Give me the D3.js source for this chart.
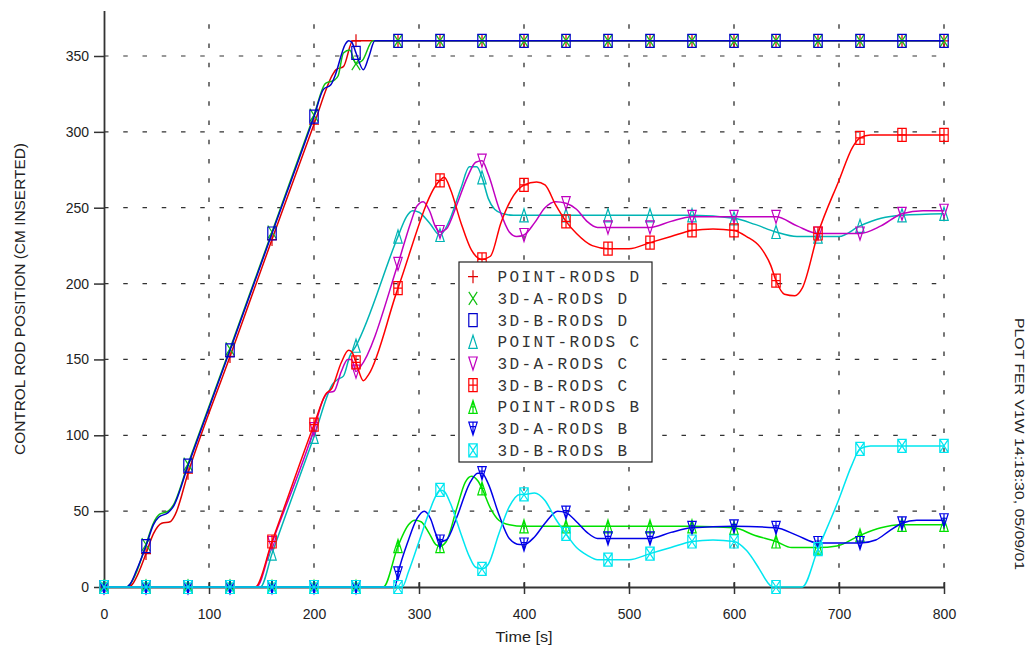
<!DOCTYPE html>
<html><head><meta charset="utf-8">
<script src="https://cdn.jsdelivr.net/npm/d3@7"></script>
<style>body{margin:0;background:#fff;} svg{display:block;background:#fff}</style>
</head><body>
<svg id="chart" width="1034" height="649"></svg>
<script>
// ---------------- data ----------------
const xTicks = [0, 100, 200, 300, 400, 500, 600, 700, 800];
const yTicks = [0, 50, 100, 150, 200, 250, 300, 350];
const xTitle = "Time [s]";
const yTitle = "CONTROL ROD POSITION (CM INSERTED)";
const sideNote = "PLOT FER V1W 14:18:30, 05/09/01";
const seriesNames = ["POINT-RODS D","3D-A-RODS D","3D-B-RODS D","POINT-RODS C","3D-A-RODS C","3D-B-RODS C","POINT-RODS B","3D-A-RODS B","3D-B-RODS B"];

const pointRodsD = [[0,0],[22,0],[26,1],[32,8],[40,22],[47,35],[55,42],[63,43],[68,48],[80,75],[120,152],[160,229],[200,305],[218,338],[221,341],[228,343],[237,360],[240,360],[280,360],[320,360],[360,360],[400,360],[440,360],[480,360],[520,360],[560,360],[600,360],[640,360],[680,360],[720,360],[760,360],[800,360]];
const aRodsD = [[0,0],[21,0],[25,2],[31,10],[40,28],[47,42],[53,48],[61,50],[66,54],[80,81],[120,157],[160,234],[200,311],[211,332],[219,334],[223,337],[228,352],[234,354],[240,345],[246,347],[256,360],[280,360],[320,360],[360,360],[400,360],[440,360],[480,360],[520,360],[560,360],[600,360],[640,360],[680,360],[720,360],[760,360],[800,360]];
const bRodsD = [[0,0],[21,0],[25,2],[31,11],[40,27],[47,41],[52,46],[61,49],[66,53],[80,80],[120,156],[160,233],[200,310],[209,328],[216,331],[220,337],[230,358],[233,360],[236,359],[240,352],[247,341],[252,349],[258,360],[280,360],[320,360],[360,360],[400,360],[440,360],[480,360],[520,360],[560,360],[600,360],[640,360],[680,360],[720,360],[760,360],[800,360]];

const pointRodsC = [[0,0],[40,0],[80,0],[120,0],[149,0],[160,22],[200,99],[218,134],[223,137],[228,139],[234,152],[240,159],[280,231],[288,244],[294,248],[300,247],[310,240],[320,232],[328,240],[340,263],[348,277],[355,277],[360,270],[366,256],[372,249],[380,246],[390,245],[400,245],[440,245],[480,245],[520,245],[560,245],[600,243],[620,239],[640,234],[660,231],[680,231],[700,231],[720,238],[740,243],[760,245],[800,246]];
const aRodsC = [[0,0],[40,0],[80,0],[120,0],[145,0],[160,29],[200,104],[209,124],[213,128],[219,129],[226,142],[232,150],[236,150],[240,142],[244,145],[280,213],[292,240],[298,251],[304,254],[310,248],[316,237],[320,234],[326,236],[336,252],[346,270],[354,280],[360,281],[366,272],[376,250],[386,234],[393,231],[400,232],[410,240],[420,250],[430,254],[440,253],[450,249],[460,241],[470,237],[480,237],[520,237],[540,241],[560,244],[600,244],[640,244],[660,238],[680,233],[700,233],[720,233],[740,238],[760,246],[780,248],[800,248]];
const bRodsC = [[0,0],[40,0],[80,0],[120,0],[144,0],[160,30],[200,107],[211,127],[217,131],[226,148],[233,156],[236,155],[240,148],[247,136],[252,140],[280,197],[320,268],[324,270],[330,262],[340,240],[350,222],[360,216],[368,218],[378,240],[390,258],[400,265],[412,267],[420,265],[430,252],[440,241],[450,233],[465,225],[480,223],[500,223],[520,227],[540,231],[560,235],[580,236],[600,235],[612,231],[625,224],[635,212],[640,202],[648,193],[658,192],[665,197],[680,233],[700,268],[713,290],[720,296],[730,298],[760,298],[800,298]];

const pointRodsB = [[0,0],[40,0],[80,0],[120,0],[160,0],[200,0],[240,0],[266,0],[280,27],[290,41],[296,44],[302,43],[310,35],[316,28],[320,27],[326,30],[336,52],[344,69],[350,73],[356,70],[360,65],[368,52],[376,44],[386,41],[400,40],[440,40],[480,40],[520,40],[560,40],[600,39],[620,34],[640,30],[655,26],[680,26],[698,27],[720,34],[740,39],[758,41],[760,41],[800,41]];
const aRodsB = [[0,0],[40,0],[80,0],[120,0],[160,0],[200,0],[240,0],[277,0],[280,9],[290,31],[298,45],[305,50],[311,45],[316,35],[320,30],[326,31],[336,46],[348,68],[356,75],[360,75],[366,68],[376,48],[386,32],[396,28],[400,28],[410,33],[420,42],[432,50],[440,49],[450,43],[460,36],[470,32],[480,32],[500,32],[520,32],[540,36],[560,39],[600,40],[640,39],[660,34],[680,29],[700,29],[720,29],[735,31],[748,37],[760,42],[774,44],[800,44]];
const bRodsB = [[0,0],[40,0],[80,0],[120,0],[160,0],[200,0],[240,0],[280,0],[284,0],[290,10],[300,30],[310,50],[316,60],[320,64],[324,63],[330,55],[340,35],[348,20],[354,13],[360,12],[366,15],[376,35],[386,53],[396,61],[400,61],[410,62],[420,57],[430,45],[440,35],[450,26],[460,21],[470,18],[480,18],[500,18],[520,22],[540,26],[560,30],[580,31],[600,30],[612,24],[624,12],[632,3],[637,0],[640,0],[665,0],[680,25],[700,58],[712,80],[720,91],[730,93],[760,93],[800,93]];

const seriesData = [pointRodsD, aRodsD, bRodsD, pointRodsC, aRodsC, bRodsC, pointRodsB, aRodsB, bRodsB];
const seriesColors = ["#e00000","#10c010","#0000cc","#00b4b4","#c000c0","#ff0000","#00e000","#0000e8","#00e6f0"];
const seriesMarkers = ["plus","cross","rect","triUp","triDown","rectPlus","triUpLine","triDownLine","rectX"];
const markerEvery = 40;

// ---------------- drawing ----------------
const svg = d3.select("#chart");
const left = 104, right = 944, bottom = 587, y350 = 56;
const x = d3.scaleLinear().domain([0, 800]).range([left, right]);
const pxPerUnit = (bottom - y350) / 350;
const y = d3.scaleLinear().domain([0, 380]).range([bottom, bottom - 380 * pxPerUnit]);

// horizontal grid
svg.append("g").selectAll("line").data(yTicks.filter(v => v > 0)).join("line")
  .attr("x1", left).attr("x2", right)
  .attr("y1", d => y(d)).attr("y2", d => y(d))
  .attr("stroke", "#333").attr("stroke-width", 1.2)
  .attr("stroke-dasharray", "4.5,14.75");
// vertical grid (drawn from bottom up)
svg.append("g").selectAll("line").data(xTicks.filter(v => v > 0)).join("line")
  .attr("x1", d => x(d)).attr("x2", d => x(d))
  .attr("y1", bottom).attr("y2", y(380))
  .attr("stroke", "#555").attr("stroke-width", 1.6)
  .attr("stroke-dasharray", "4.5,14.75");

const axisColor = "#333";
const fontSans = "'Liberation Sans', Arial, sans-serif";
// y axis
const gy = svg.append("g").attr("transform", `translate(${left},0)`)
  .call(d3.axisLeft(y).tickValues(yTicks).tickSize(10).tickSizeOuter(0).tickPadding(5));
gy.select(".domain").attr("stroke", axisColor).attr("stroke-width", 1.8);
gy.selectAll(".tick line").attr("stroke", axisColor).attr("stroke-width", 1.5);
gy.selectAll(".tick text").attr("font-family", fontSans).attr("font-size", 14).attr("fill", "#222");
// x axis
const gx = svg.append("g").attr("transform", `translate(0,${bottom})`)
  .call(d3.axisBottom(x).tickValues(xTicks).tickSize(7).tickSizeOuter(0).tickPadding(15));
gx.select(".domain").attr("stroke", axisColor).attr("stroke-width", 1.8);
gx.selectAll(".tick line").attr("y1", -5).attr("stroke", axisColor).attr("stroke-width", 1.5);
gx.selectAll(".tick text").attr("font-family", fontSans).attr("font-size", 14).attr("fill", "#222");

// titles
svg.append("text").text(xTitle).attr("x", (left + right) / 2).attr("y", 642)
  .attr("text-anchor", "middle").attr("font-family", fontSans).attr("font-size", 14)
  .attr("fill", "#222").attr("textLength", 57).attr("lengthAdjust", "spacingAndGlyphs");
svg.append("text").text(yTitle)
  .attr("transform", "translate(25,299) rotate(-90)")
  .attr("text-anchor", "middle").attr("font-family", fontSans).attr("font-size", 14)
  .attr("fill", "#222").attr("textLength", 312).attr("lengthAdjust", "spacingAndGlyphs");
svg.append("text").text(sideNote)
  .attr("transform", "translate(1015,444) rotate(90)")
  .attr("text-anchor", "middle").attr("font-family", fontSans).attr("font-size", 13)
  .attr("fill", "#222").attr("textLength", 252).attr("lengthAdjust", "spacingAndGlyphs");

// marker shapes
function markerPath(type, cx, cy) {
  const w = 4.2, h = 6.5;
  const rect = `M${cx-w},${cy-h}H${cx+w}V${cy+h}H${cx-w}Z`;
  switch (type) {
    case "plus": return `M${cx-5},${cy}H${cx+5}M${cx},${cy-h}V${cy+h}`;
    case "cross": return `M${cx-w},${cy-h}L${cx+w},${cy+h}M${cx+w},${cy-h}L${cx-w},${cy+h}`;
    case "rect": return rect;
    case "rectPlus": return rect + `M${cx},${cy-h}V${cy+h}M${cx-w},${cy}H${cx+w}`;
    case "rectX": return rect + `M${cx-w},${cy-h}L${cx+w},${cy+h}M${cx+w},${cy-h}L${cx-w},${cy+h}`;
    case "triUp": return `M${cx},${cy-h}L${cx+w},${cy+h}L${cx-w},${cy+h}Z`;
    case "triDown": return `M${cx},${cy+h}L${cx+w},${cy-h}L${cx-w},${cy-h}Z`;
    case "triUpLine": return `M${cx},${cy-h}L${cx+w},${cy+h}L${cx-w},${cy+h}ZM${cx},${cy-h}V${cy+h}M${cx-2.5},${cy}H${cx+2.5}`;
    case "triDownLine": return `M${cx},${cy+h}L${cx+w},${cy-h}L${cx-w},${cy-h}ZM${cx},${cy-h}V${cy+h}M${cx-2.5},${cy-2}H${cx+2.5}`;
  }
  return "";
}

const line = d3.line().x(d => x(d[0])).y(d => y(d[1])).curve(d3.curveMonotoneX);
seriesData.forEach((data, i) => {
  const g = svg.append("g");
  g.append("path").datum(data).attr("d", line)
    .attr("fill", "none").attr("stroke", seriesColors[i]).attr("stroke-width", 1.5);
  g.selectAll("path.m").data(data.filter(d => d[0] % markerEvery === 0)).join("path")
    .attr("class", "m")
    .attr("d", d => markerPath(seriesMarkers[i], x(d[0]), y(d[1])))
    .attr("fill", "none").attr("stroke", seriesColors[i]).attr("stroke-width", 1.2);
});

// legend
const lgX = 459, lgY = 262, lgW = 193, lgH = 200, rowH = 21.7;
const lg = svg.append("g");
lg.append("rect").attr("x", lgX).attr("y", lgY).attr("width", lgW).attr("height", lgH)
  .attr("fill", "#fff").attr("stroke", "#222").attr("stroke-width", 1.2);
seriesNames.forEach((name, i) => {
  const cy = lgY + 14.7 + i * rowH;
  lg.append("path").attr("d", markerPath(seriesMarkers[i], lgX + 14, cy))
    .attr("fill", "none").attr("stroke", seriesColors[i]).attr("stroke-width", 1.2);
  lg.append("text").text(name).attr("x", lgX + 38.5).attr("y", cy + 5.5)
    .attr("font-family", "'Courier New', 'Nimbus Mono PS', 'FreeMono', 'Liberation Mono', monospace").attr("font-size", 16)
    .attr("letter-spacing", 2.4).attr("fill", "#333");
});
</script>
</body></html>
